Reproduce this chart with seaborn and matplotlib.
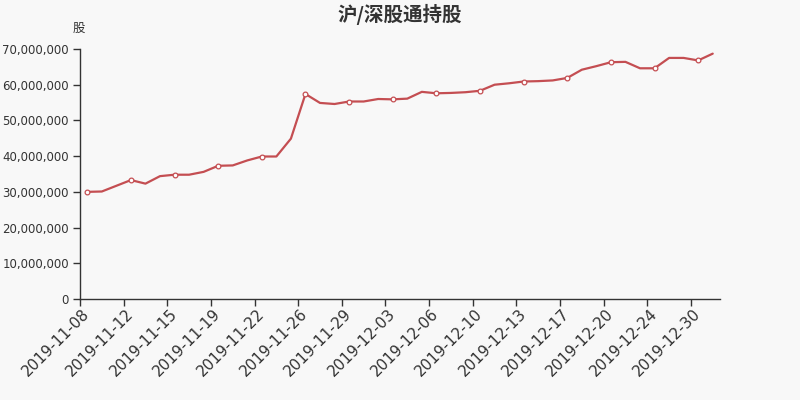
import matplotlib
matplotlib.use("Agg")
import matplotlib.pyplot as plt
import matplotlib.ticker as mticker
import seaborn as sns
import pandas as pd

dates = [
    "2019-11-08", "2019-11-10", "2019-11-11", "2019-11-12", "2019-11-13", "2019-11-14",
    "2019-11-15", "2019-11-17", "2019-11-18", "2019-11-19", "2019-11-20", "2019-11-21",
    "2019-11-22", "2019-11-24", "2019-11-25", "2019-11-26", "2019-11-27", "2019-11-28",
    "2019-11-29", "2019-12-01", "2019-12-02", "2019-12-03", "2019-12-04", "2019-12-05",
    "2019-12-06", "2019-12-08", "2019-12-09", "2019-12-10", "2019-12-11", "2019-12-12",
    "2019-12-13", "2019-12-15", "2019-12-16", "2019-12-17", "2019-12-18", "2019-12-19",
    "2019-12-20", "2019-12-22", "2019-12-23", "2019-12-24", "2019-12-27", "2019-12-29",
    "2019-12-30", "2019-12-31",
]
holdings_m = [
    30.0, 30.1, 31.7, 33.3, 32.3, 34.4, 34.8, 34.8, 35.6, 37.3, 37.4, 38.8,
    39.9, 39.9, 44.9, 57.4, 54.9, 54.6, 55.3, 55.3, 56.0, 55.9, 56.1, 58.0,
    57.6, 57.7, 57.9, 58.3, 60.0, 60.4, 60.9, 61.0, 61.2, 61.9, 64.2, 65.2,
    66.3, 66.4, 64.6, 64.6, 67.5, 67.5, 66.8, 68.7,
]
holdings = [v * 1_000_000 for v in holdings_m]
title = "沪/深股通持股"
y_unit = "股"

df = pd.DataFrame({"idx": range(len(dates)), "date": dates, "holdings": holdings})

sns.set_theme(style="white")
plt.rcParams["font.family"] = ["DejaVu Sans", "Noto Sans CJK SC"]
bg = "#f8f8f8"
fig = plt.figure(figsize=(8, 4), dpi=100, facecolor=bg)
ax = fig.add_axes([0.1, 0.2525, 0.8, 0.625])
ax.set_facecolor(bg)

sns.lineplot(data=df, x="idx", y="holdings", ax=ax, color="#C44E52", linewidth=1.6,
             marker="o", markevery=3, markersize=3.4, markerfacecolor="white",
             markeredgecolor="#C44E52", markeredgewidth=0.9)

ax.set_xlim(-0.5, len(dates) - 0.5)
ax.set_ylim(0, 70_000_000)
ax.yaxis.set_major_locator(mticker.MultipleLocator(10_000_000))
ax.yaxis.set_major_formatter(mticker.FuncFormatter(lambda v, p: f"{int(v):,}"))

step = 3
tick_idx = list(range(0, len(dates), step))
ax.set_xticks([i - 0.5 for i in tick_idx])
ax.set_xticklabels([])
ax.set_xticks(tick_idx, minor=True)
ax.set_xticklabels([dates[i] for i in tick_idx], minor=True, rotation=45, ha="right",
                   va="center", rotation_mode="anchor", fontsize=11, color="#333333")
ax.tick_params(axis="x", which="minor", length=0, pad=9)
ax.tick_params(axis="x", which="major", length=5, width=1, color="#333333", direction="out")
ax.tick_params(axis="y", length=5, width=1, color="#333333", direction="out",
               labelsize=8.5, labelcolor="#333333", pad=3)
ax.tick_params(bottom=True, left=True)

for s in ["top", "right"]:
    ax.spines[s].set_visible(False)
for s in ["left", "bottom"]:
    ax.spines[s].set_color("#333333")
    ax.spines[s].set_linewidth(1)

ax.set_xlabel("")
ax.set_ylabel("")
fig.text(0.0985, 0.928, y_unit, ha="center", va="center", fontsize=9, color="#333333",
         family=["Noto Sans CJK SC", "DejaVu Sans"])
fig.text(0.5, 0.965, title, ha="center", va="center", fontsize=14, fontweight="bold",
         color="#333333", family=["Noto Sans CJK SC", "DejaVu Sans"])

fig.savefig("out.png", dpi=100, facecolor=bg)
